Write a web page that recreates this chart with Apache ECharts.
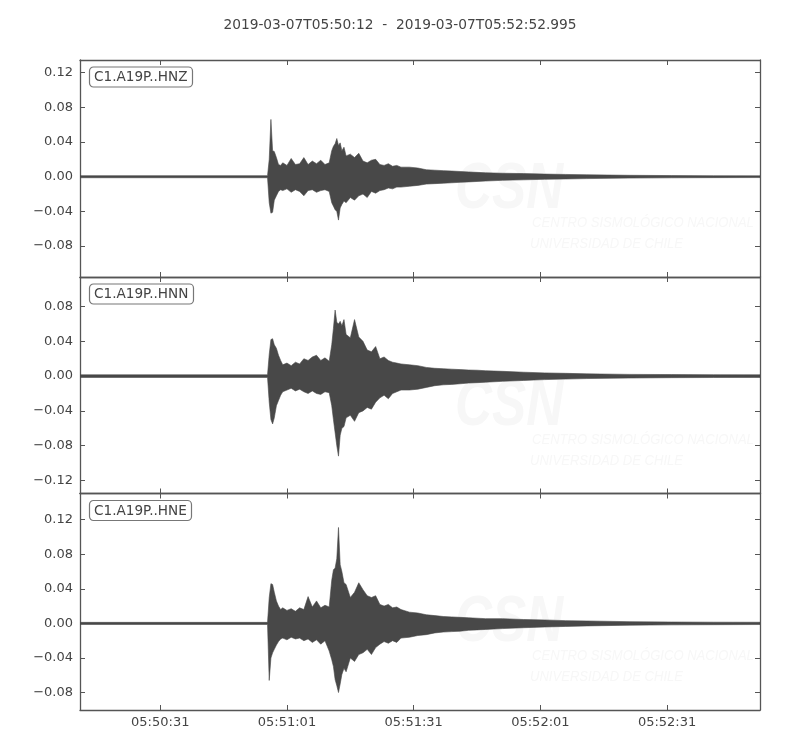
<!DOCTYPE html>
<html>
<head>
<meta charset="utf-8">
<title>C1.A19P</title>
<script src="https://cdn.jsdelivr.net/npm/echarts@6/dist/echarts.min.js"></script>
<style>
  html, body { margin: 0; background: #fff; }
  #chart { width: 800px; height: 750px; }
</style>
</head>
<body>
<div id="chart"></div>
<script>
// seconds after 2019-03-07T05:50:12, envelope of each trace
const secs = [0, 44.4, 44.8, 45.2, 45.6, 46.0, 46.5, 47, 47.5, 48,
  49, 50, 51, 52, 53, 54, 55, 56, 57, 58, 59,
  59.6, 60.0, 60.4, 60.8, 61.2, 61.6, 62, 62.5, 63,
  64, 65, 66, 67, 68, 69, 70, 71, 72, 73, 74, 75, 76,
  78, 80, 82, 84, 86, 88, 90, 92, 94, 96,
  100, 105, 110, 115, 120,
  130, 140, 150, 161];

const hnzHigh = [0.0012, 0.0012, 0.020, 0.066, 0.030, 0.029, 0.022, 0.014, 0.013, 0.016,
  0.013, 0.021, 0.014, 0.015, 0.022, 0.014, 0.018, 0.015, 0.019, 0.014, 0.016,
  0.030, 0.035, 0.038, 0.044, 0.036, 0.039, 0.030, 0.034, 0.024,
  0.026, 0.022, 0.027, 0.018, 0.016, 0.019, 0.020, 0.014, 0.013, 0.015, 0.012, 0.013, 0.011,
  0.011, 0.010, 0.008, 0.0075, 0.007, 0.0065, 0.006, 0.0055, 0.005, 0.0045,
  0.004, 0.0036, 0.003, 0.0026, 0.0022,
  0.0016, 0.0013, 0.0011, 0.001];
const hnzLow = [-0.0012, -0.0012, -0.030, -0.042, -0.041, -0.027, -0.022, -0.017, -0.015, -0.016,
  -0.014, -0.018, -0.015, -0.017, -0.022, -0.016, -0.015, -0.018, -0.016, -0.015, -0.017,
  -0.030, -0.034, -0.038, -0.040, -0.050, -0.036, -0.032, -0.028, -0.030,
  -0.024, -0.027, -0.022, -0.020, -0.024, -0.017, -0.019, -0.016, -0.015, -0.013, -0.014, -0.012, -0.012,
  -0.011, -0.010, -0.0085, -0.008, -0.0075, -0.007, -0.0065, -0.006, -0.0055, -0.005,
  -0.0042, -0.0036, -0.003, -0.0026, -0.0022,
  -0.0016, -0.0013, -0.0011, -0.001];

const hnnHigh = [0.0015, 0.0015, 0.025, 0.042, 0.043, 0.036, 0.032, 0.024, 0.018, 0.013,
  0.015, 0.012, 0.016, 0.014, 0.020, 0.018, 0.022, 0.024, 0.018, 0.021, 0.017,
  0.036, 0.055, 0.076, 0.062, 0.060, 0.063, 0.058, 0.065, 0.048,
  0.044, 0.065, 0.045, 0.040, 0.030, 0.028, 0.034, 0.020, 0.022, 0.018, 0.016, 0.015, 0.014,
  0.013, 0.012, 0.010, 0.009, 0.0085, 0.008, 0.0075, 0.007, 0.0068, 0.0062,
  0.0055, 0.0045, 0.0037, 0.0032, 0.0026,
  0.002, 0.0018, 0.0016, 0.0015];
const hnnLow = [-0.0015, -0.0015, -0.030, -0.050, -0.055, -0.048, -0.034, -0.028, -0.022, -0.018,
  -0.016, -0.014, -0.017, -0.015, -0.018, -0.020, -0.017, -0.020, -0.021, -0.018, -0.019,
  -0.034, -0.050, -0.065, -0.080, -0.092, -0.068, -0.060, -0.058, -0.048,
  -0.045, -0.052, -0.042, -0.040, -0.036, -0.038, -0.030, -0.025, -0.022, -0.026, -0.020, -0.018, -0.016,
  -0.016, -0.015, -0.013, -0.011, -0.010, -0.0095, -0.0088, -0.008, -0.0075, -0.007,
  -0.006, -0.005, -0.004, -0.0034, -0.0028,
  -0.0022, -0.0018, -0.0016, -0.0015];

const hneHigh = [0.0012, 0.0012, 0.030, 0.046, 0.045, 0.036, 0.026, 0.020, 0.016, 0.018,
  0.015, 0.017, 0.014, 0.018, 0.016, 0.031, 0.019, 0.026, 0.018, 0.021, 0.019,
  0.050, 0.062, 0.064, 0.075, 0.111, 0.068, 0.060, 0.047, 0.045,
  0.030, 0.036, 0.047, 0.039, 0.032, 0.030, 0.032, 0.022, 0.020, 0.022, 0.018, 0.019, 0.016,
  0.013, 0.012, 0.010, 0.009, 0.008, 0.0075, 0.007, 0.0065, 0.006, 0.0055,
  0.0055, 0.0045, 0.004, 0.0032, 0.0028,
  0.002, 0.0016, 0.0014, 0.0013];
const hneLow = [-0.0012, -0.0012, -0.066, -0.040, -0.034, -0.030, -0.025, -0.021, -0.018, -0.017,
  -0.019, -0.016, -0.018, -0.017, -0.020, -0.018, -0.022, -0.019, -0.024, -0.020, -0.032,
  -0.042, -0.050, -0.065, -0.072, -0.080, -0.070, -0.059, -0.052, -0.056,
  -0.040, -0.044, -0.036, -0.034, -0.030, -0.036, -0.028, -0.024, -0.021, -0.023, -0.020, -0.022, -0.017,
  -0.016, -0.014, -0.013, -0.011, -0.010, -0.0095, -0.009, -0.008, -0.0075, -0.007,
  -0.006, -0.005, -0.0042, -0.0035, -0.0029,
  -0.0021, -0.0017, -0.0015, -0.0013];

const channels = ['C1.A19P..HNZ', 'C1.A19P..HNN', 'C1.A19P..HNE'];
const xTickSecs = [19, 49, 79, 109, 139];
const yTicksZ = [-0.08, -0.04, 0, 0.04, 0.08, 0.12];
const yTicksN = [-0.12, -0.08, -0.04, 0, 0.04, 0.08];
const yTicksE = [-0.08, -0.04, 0, 0.04, 0.08, 0.12];
const titleText = '2019-03-07T05:50:12  -  2019-03-07T05:52:52.995';

const traces = [
  { low: hnzLow, high: hnzHigh, ticks: yTicksZ, min: -0.1156, max: 0.1345 },
  { low: hnnLow, high: hnnHigh, ticks: yTicksN, min: -0.135, max: 0.114 },
  { low: hneLow, high: hneHigh, ticks: yTicksE, min: -0.1002, max: 0.1503 }
];

const FONT = 'DejaVu Sans';
const TXT = '#444';
const FRAME = '#555';
const WAVE = '#484848';
const START = 5 * 3600 + 50 * 60 + 12;
const tops = [60, 277, 493.5];
const heights = [217, 216.5, 216.5];

function hms(v) {
  const s = Math.round(START + v);
  const p = n => String(n).padStart(2, '0');
  return p(Math.floor(s / 3600)) + ':' + p(Math.floor(s / 60) % 60) + ':' + p(s % 60);
}
function yfmt(v) {
  return (v < 0 ? '\u2212' : '') + Math.abs(v).toFixed(2);
}

// one closed polygon: upper envelope left->right, lower envelope right->left
function bandItem(tr) {
  return function (params, api) {
    if (params.dataIndex !== 0) return null;
    const up = secs.map((t, k) => api.coord([t, tr.high[k]]));
    const dn = secs.map((t, k) => api.coord([t, tr.low[k]])).reverse();
    return {
      type: 'polygon',
      shape: { points: up.concat(dn) },
      style: { fill: WAVE, stroke: WAVE, lineWidth: 0.6 }
    };
  };
}

const chart = echarts.init(document.getElementById('chart'), null, { renderer: 'canvas' });

const grid = [], xAxis = [], yAxis = [], series = [], titles = [], graphic = [];

titles.push({
  text: titleText, left: 'center', top: 13,
  textStyle: { fontSize: 13.75, fontWeight: 'normal', color: TXT, fontFamily: FONT }
});

traces.forEach((tr, i) => {
  grid.push({ left: 80, right: 40, top: tops[i], height: heights[i] });
  ['bottom', 'top'].forEach(pos => {
    xAxis.push({
      type: 'value', gridIndex: i, position: pos, min: 0, max: 160.995,
      axisLine: { show: true, onZero: false, lineStyle: { color: FRAME, width: 1.3 } },
      axisTick: { show: true, inside: true, length: 5, customValues: xTickSecs, lineStyle: { color: FRAME } },
      axisLabel: {
        show: pos === 'bottom' && i === 2, customValues: xTickSecs, formatter: hms,
        color: TXT, fontSize: 13, fontFamily: FONT, margin: 6
      },
      splitLine: { show: false }
    });
  });
  ['left', 'right'].forEach(pos => {
    yAxis.push({
      type: 'value', gridIndex: i, position: pos, min: tr.min, max: tr.max,
      axisLine: { show: true, onZero: false, lineStyle: { color: FRAME, width: 1.3 } },
      axisTick: { show: true, inside: true, length: 5, customValues: tr.ticks, lineStyle: { color: FRAME } },
      axisLabel: {
        show: pos === 'left', customValues: tr.ticks, formatter: yfmt,
        color: TXT, fontSize: 13, fontFamily: FONT, margin: 7
      },
      splitLine: { show: false }
    });
  });

  series.push({
    type: 'custom', xAxisIndex: 2 * i, yAxisIndex: 2 * i,
    data: secs.map((t, k) => [t, tr.low[k], tr.high[k]]),
    encode: { x: 0, y: [1, 2] },
    renderItem: bandItem(tr),
    silent: true, animation: false, clip: true, z: 3
  });

  titles.push({
    text: channels[i], left: 89, top: tops[i] + 6.5,
    padding: [4, 5, 3, 5], borderColor: '#777', borderWidth: 1.2, borderRadius: 4,
    backgroundColor: '#fff',
    textStyle: { fontSize: 13.6, fontWeight: 'normal', color: TXT, fontFamily: FONT }
  });

  // faint CSN watermark
  const wy = tops[i];
  graphic.push(
    { type: 'text', left: 455, top: wy + 98, z: 0, scaleX: 0.8,
      style: { text: 'CSN', fill: '#f7f7f7', font: 'italic bold 64px "Liberation Sans"' } },
    { type: 'text', left: 532, top: wy + 155, z: 0, scaleX: 0.87,
      style: { text: 'CENTRO SISMOLÓGICO NACIONAL', fill: '#f7f7f7', font: 'italic 15px "Liberation Sans"' } },
    { type: 'text', left: 530, top: wy + 176, z: 0, scaleX: 0.87,
      style: { text: 'UNIVERSIDAD DE CHILE', fill: '#f7f7f7', font: 'italic 15px "Liberation Sans"' } }
  );
});

chart.setOption({
  backgroundColor: '#fff',
  animation: false,
  title: titles,
  grid: grid,
  xAxis: xAxis,
  yAxis: yAxis,
  series: series,
  graphic: graphic
});
</script>
</body>
</html>
